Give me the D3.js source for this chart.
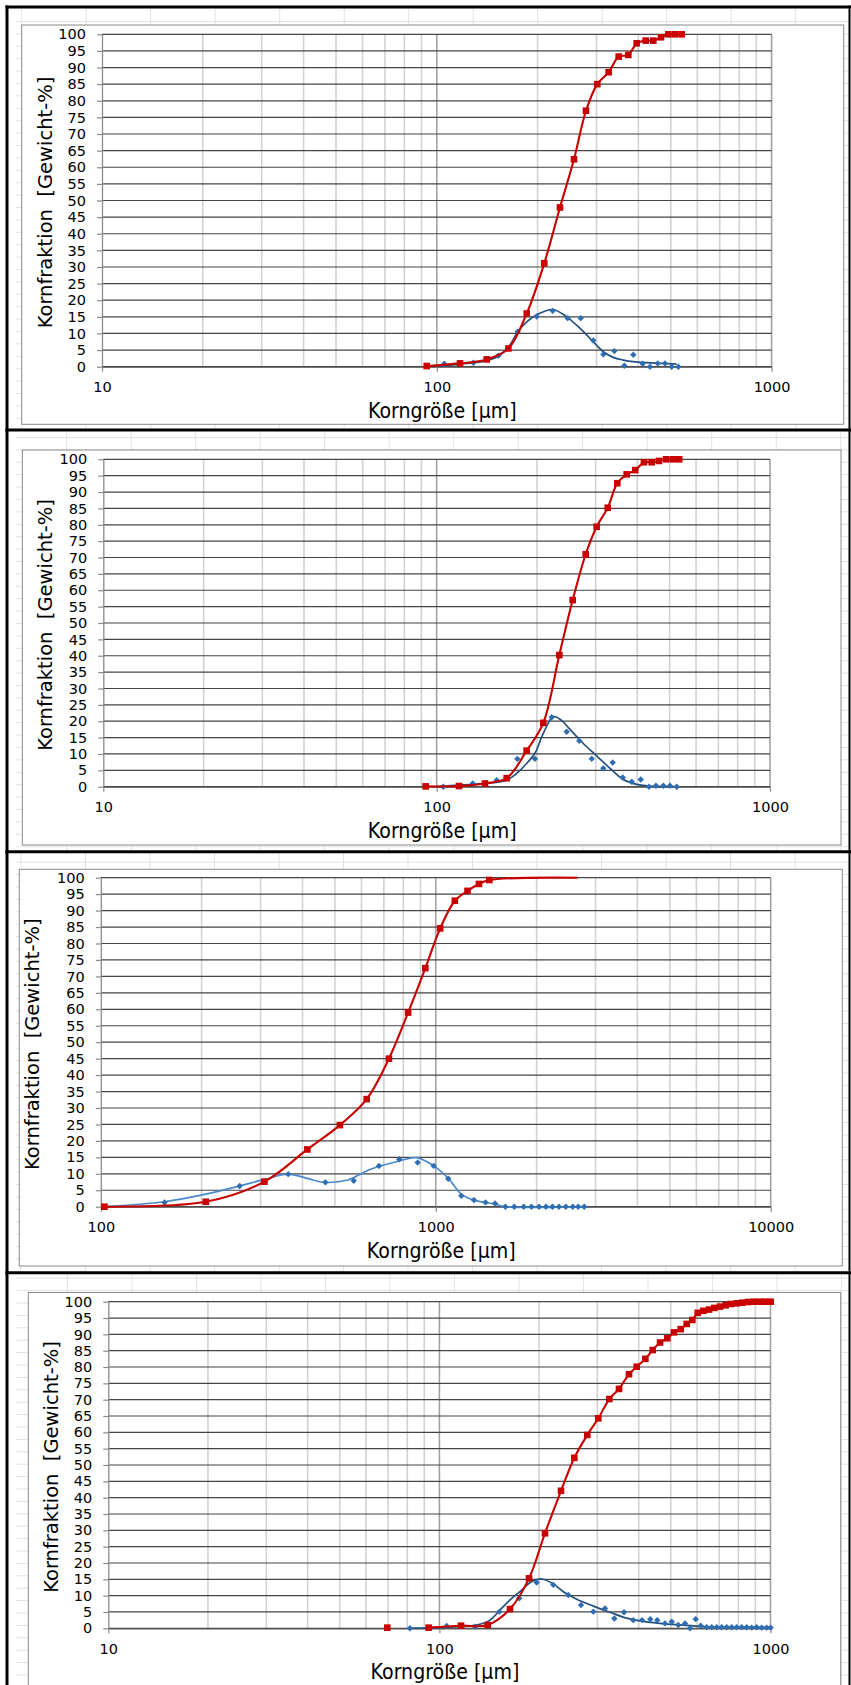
<!DOCTYPE html>
<html><head><meta charset="utf-8">
<script src="https://cdn.jsdelivr.net/npm/d3@7"></script>
<style>body{margin:0;background:#fff}svg{display:block}</style>
</head><body>
<svg id="c" width="851" height="1685"></svg>
<script>
// ---------- DATA ----------
const yTicks = [0,5,10,15,20,25,30,35,40,45,50,55,60,65,70,75,80,85,90,95,100];
const xTickValsA = [10,100,1000];
const xTickLabelsA = ["10","100","1000"];
const xTickValsB = [100,1000,10000];
const xTickLabelsB = ["100","1000","10000"];
const xTitle = "Korngröße [µm]";
const yTitle = "Kornfraktion  [Gewicht-%]";

// Panel 1
const p1RedX = [93.3,117.3,141,163.6,185.6,209.4,233.3,256.9,279,301.6,326.1,349.4,373.3,395.4,420.6,443.3,467.4,491.5,514.6,538.8];
const p1RedY = [0.2,1.0,2.2,5.5,16,31.1,47.9,62.4,77,85,88.6,93.3,93.8,97.3,98.1,98.1,99.1,100,100,100];
const p1BlueX = [105.3,128.6,152.7,174.4,198.8,221.9,246,269,293.4,314.4,339,363.2,386.4,412,433.4,456.8,480.4,503,526.6];
const p1BlueY = [0.9,1.2,3.3,10.5,15.1,16.8,14.6,14.6,7.9,3.7,4.7,0.3,3.6,0.9,0,1.0,1.0,0,0];
const p1CurveX = [99.9,117.3,141,154.5,165.4,174.4,185.6,198.8,221.9,244.3,267.8,293.4,314.4,336.7,360.6,386.4,423.6,474.9,520.6];
const p1CurveY = [0.2,0.8,1.8,3.5,6.5,10.5,13.5,15.6,17.2,15.0,11.5,7.5,4.5,2.8,2.0,1.5,1.2,1.0,0.8];

// Panel 2
const p2RedX = [92.7,116.7,139.6,162.2,186.2,208.9,233.3,255.9,280,302,326,348.3,371.6,394.4,418.8,441.7,464.6,488,511,534];
const p2RedY = [0.1,0.2,1.0,2.6,11.0,19.5,40.2,57.0,71.0,79.4,85.2,92.7,95.4,96.7,99.1,99.1,99.5,100,100,100];
const p2BlueX = [104.7,128.3,151.4,174.6,197.2,221.4,245.5,267.8,291.9,316.2,337.4,361.7,384.8,409.5,433.5,454.9,478.6,501.2,525];
const p2BlueY = [0,1.0,2.0,8.5,8.5,21.2,16.8,14.0,8.5,5.6,7.4,2.8,1.5,2.2,0,0.3,0.3,0.3,0];
const p2CurveX = [100,117.5,141.3,162.2,173.9,186.2,197.2,208.9,223.9,237.3,251.2,275.4,302,331.3,363,398,446.7,525];
const p2CurveY = [0,0.5,1.0,2.0,4.1,7.1,10.2,16.3,21.4,20.2,17.5,13.2,9.4,5.6,2.2,0.7,0.1,0];

// Panel 3
const p3RedX = [102.5,205.9,307.9,413.6,517.3,622.1,724.8,827,931,1031,1140,1244,1346,1445,2650];
const p3RedY = [0,1.5,7.6,17.4,24.8,32.7,45.0,59.0,72.5,84.6,93.0,96.0,98.1,99.3,100];
const p3RedMarked = 14; // the last point of the red line carries no marker
const p3BlueX = [155,259.8,362.7,468.3,568.9,676.9,778.5,883,986,1090,1192,1300,1408,1503,1614,1715,1831,1931,2034,2133,2231,2333,2446,2565,2662,2776];
const p3BlueY = [1.3,6.3,9.9,7.4,7.9,12.4,14.4,13.4,12.4,8.5,3.3,2.0,1.3,1.0,0,0,0,0,0,0,0,0,0,0,0,0];
const p3CurveX = [102.5,155,205.9,259.8,307.9,362.7,413,466,545.6,639,778.5,876.6,986,1090,1192,1300,1503,1614,2776];
const p3CurveY = [0,1.5,3.8,6.3,8.3,9.9,8.6,7.4,8.1,11.4,13.9,14.9,12.4,8.6,3.8,2.0,0.8,0,0];

// Panel 4
const p4RedX = [69.6,92.8,116.2,139.9,163.4,186.5,208.4,233,255.6,279.7,302,326,348.7,373.8,394.4,418.8,440.9,463.9,487.9,511.1,535.6,558.4,580.6,602.8,626.7,652.2,676.7,704,732.3,759.8,790.6,821.9,855,889.7,925.2,960.5,1001];
const p4RedY = [0.2,0.2,0.8,1.0,5.9,15.3,29.1,42.1,52.2,59.2,64.3,70.2,73.3,77.8,80.1,82.5,85.2,87.5,88.8,90.6,91.6,93.2,94.4,96.6,97.2,97.6,98.1,98.5,98.9,99.3,99.5,99.7,99.9,100,100,100,100];
const p4BlueX = [81.5,105.2,128.1,151.7,174.3,196.7,220.8,245.1,267.7,291.6,316.4,337.6,361.1,385.1,409.2,433.5,455,480.1,503,526.7,551.9,571.4,594.4,615.5,641.6,664.4,688,712.3,737.5,763.5,790.6,818.5,847.5,877.5,908.5,940.6,973.9,1001];
const p4BlueY = [0,0.7,0.5,5.1,9.2,14.0,13.3,10.2,7.1,5.1,6.1,3.0,4.9,2.5,2.5,2.8,2.5,1.5,2.0,1.0,1.5,0,2.8,0.8,0.3,0.3,0.3,0.3,0.3,0.3,0.3,0.3,0.3,0.2,0.3,0.2,0.2,0.2];
const p4CurveX = [81.5,105.2,129.6,142.1,152.4,162.6,175.1,190,203.7,220.8,236.7,259.9,291.6,327.6,367.9,412.9,485.9,545.3,612.5,688,1001];
const p4CurveY = [0,0.3,1.0,2.5,5.6,8.5,11.2,14.3,15.1,13.6,11.2,8.9,6.8,4.9,3.1,2.1,1.3,1.0,0.6,0.4,0.3];

// ---------- LAYOUT ----------
const panels = [
  {band:[8.5,428.5], chart:[21.7,25,843.7,424.3], plot:[102,771.6,34.3,366.7], dom:[10,1000],
   ticks:xTickValsA, labels:xTickLabelsA, ytx:51.5, colOff:21.7, rowOff:13,
   redX:p1RedX, redY:p1RedY, redStart:0, redMarked:p1RedX.length,
   blueX:p1BlueX, blueY:p1BlueY, curveX:p1CurveX, curveY:p1CurveY, curveColor:"#24507f"},
  {band:[431.5,850.2], chart:[22.3,450,841,845], plot:[103.3,770,459.3,786.7], dom:[10,1000],
   ticks:xTickValsA, labels:xTickLabelsA, ytx:52, colOff:2.2, rowOff:6,
   redX:p2RedX, redY:p2RedY, redStart:0, redMarked:p2RedX.length,
   blueX:p2BlueX, blueY:p2BlueY, curveX:p2CurveX, curveY:p2CurveY, curveColor:"#24507f"},
  {band:[853.2,1271.2], chart:[19.3,869.3,842.3,1266], plot:[100.8,770.7,877.7,1206.7], dom:[100,10000],
   ticks:xTickValsB, labels:xTickLabelsB, ytx:39, colOff:21, rowOff:9,
   redX:p3RedX, redY:p3RedY, redStart:0, redMarked:p3RedMarked,
   blueX:p3BlueX, blueY:p3BlueY, curveX:p3CurveX, curveY:p3CurveY, curveColor:"#4a88cc"},
  {band:[1274.2,1690], chart:[28.3,1292.5,840.7,1700], plot:[108.3,770.5,1301.7,1628.3], dom:[10,1000],
   ticks:xTickValsA, labels:xTickLabelsA, ytx:58, colOff:3, rowOff:4,
   redX:p4RedX, redY:p4RedY, redStart:1, redMarked:p4RedX.length,
   blueX:p4BlueX, blueY:p4BlueY, curveX:p4CurveX, curveY:p4CurveY, curveColor:"#24507f"}
];

const svg = d3.select("#c");
const FONT = "'DejaVu Sans', Verdana, sans-serif";
const RED = "#c80000", BLUE_M = "#2f6db3";

panels.forEach((P) => {
  const g = svg.append("g");
  const [bx0, bx1] = [16, 848];
  const [by0, by1] = P.band;
  // spreadsheet background grid
  const bg = g.append("g").attr("stroke", "#e2e2e2").attr("stroke-width", 1);
  for (let x = P.colOff; x < bx1; x += 64.5) {
    if (x < bx0) continue;
    bg.append("line").attr("x1", x).attr("x2", x).attr("y1", by0).attr("y2", by1);
  }
  for (let y = by0 + P.rowOff; y < by1; y += 12.4) {
    bg.append("line").attr("x1", bx0).attr("x2", bx1).attr("y1", y).attr("y2", y);
  }
  // chart area
  const [cx0, cy0, cx1, cy1] = P.chart;
  g.append("rect").attr("x", cx0).attr("y", cy0).attr("width", cx1 - cx0).attr("height", cy1 - cy0)
    .attr("fill", "#fff").attr("stroke", "#8a8a8a").attr("stroke-width", 1);

  const [px0, px1, pyT, pyB] = P.plot;
  const x = d3.scaleLog().domain(P.dom).range([px0, px1]);
  const y = d3.scaleLinear().domain([0, 100]).range([pyB, pyT]);

  // vertical gridlines (log minor + major)
  const vg = g.append("g");
  const vals = [];
  for (let d = P.dom[0]; d < P.dom[1]; d *= 10) {
    for (let m = 1; m <= 10; m++) {
      const v = m * d;
      if (v > P.dom[0] && v <= P.dom[1] && !(m === 10 && v !== P.dom[1])) vals.push({v, major: m === 1 || m === 10});
    }
  }
  vg.selectAll("line").data(vals).join("line")
    .attr("x1", d => x(d.v)).attr("x2", d => x(d.v)).attr("y1", pyT).attr("y2", pyB)
    .attr("stroke", d => d.major ? "#a3a3a3" : "#d2d2d2").attr("stroke-width", 1.6);

  // horizontal gridlines
  g.append("g").selectAll("line").data(yTicks).join("line")
    .attr("x1", px0).attr("x2", px1).attr("y1", d => y(d)).attr("y2", d => y(d))
    .attr("stroke", "#444").attr("stroke-width", 1.2);

  // axes
  const ya = g.append("g").attr("transform", `translate(${px0},0)`)
    .call(d3.axisLeft(y).tickValues(yTicks).tickSize(5).tickSizeOuter(0).tickPadding(11));
  ya.select(".domain").attr("stroke", "#8a8a8a").attr("stroke-width", 1.3);
  ya.selectAll(".tick line").attr("stroke", "#8a8a8a").attr("stroke-width", 1.2);
  ya.selectAll("text").attr("font-family", FONT).attr("font-size", 14.5).attr("fill", "#000");

  const xa = g.append("g").attr("transform", `translate(0,${pyB})`)
    .call(d3.axisBottom(x).tickValues(P.ticks).tickFormat((d, i) => P.labels[i])
      .tickSize(5).tickSizeOuter(0).tickPadding(10));
  xa.select(".domain").attr("stroke", "#555").attr("stroke-width", 1.3);
  xa.selectAll(".tick line").attr("stroke", "#8a8a8a").attr("stroke-width", 1.2);
  xa.selectAll("text").attr("font-family", FONT).attr("font-size", 14.5).attr("fill", "#000");

  // titles
  g.append("text").attr("transform", `translate(${(px0 + px1) / 2 + 5.5},${pyB + 51}) scale(1,1.08)`)
    .attr("text-anchor", "middle").attr("font-family", FONT).attr("font-size", 19)
    .attr("fill", "#000").text(xTitle);
  g.append("text").attr("transform", `translate(${P.ytx},${(pyT + pyB) / 2 + 2}) rotate(-90)`)
    .attr("text-anchor", "middle").attr("font-family", FONT).attr("font-size", 19.5)
    .style("white-space", "pre").attr("fill", "#000").text(yTitle);

  // blue smoothed curve
  const curvePts = P.curveX.map((v, i) => [v, P.curveY[i]]);
  const line = d3.line().x(d => x(d[0])).y(d => y(d[1])).curve(d3.curveCatmullRom.alpha(0.5));
  g.append("path").attr("d", line(curvePts)).attr("fill", "none")
    .attr("stroke", P.curveColor).attr("stroke-width", 1.7);

  // blue diamonds
  const bluePts = P.blueX.map((v, i) => [v, P.blueY[i]]);
  const r = 3.2;
  g.append("g").selectAll("path").data(bluePts).join("path")
    .attr("d", d => `M${x(d[0])},${y(d[1]) - r}L${x(d[0]) + r},${y(d[1])}L${x(d[0])},${y(d[1]) + r}L${x(d[0]) - r},${y(d[1])}Z`)
    .attr("fill", BLUE_M);

  // red line + squares
  const redPts = P.redX.map((v, i) => [v, P.redY[i]]);
  g.append("path").attr("d", line(redPts.slice(P.redStart))).attr("fill", "none")
    .attr("stroke", RED).attr("stroke-width", 2.1);
  const s = 6.6;
  g.append("g").selectAll("rect").data(redPts.slice(0, P.redMarked)).join("rect")
    .attr("x", d => x(d[0]) - s / 2).attr("y", d => y(d[1]) - s / 2)
    .attr("width", s).attr("height", s).attr("fill", RED);
});

// black outer frame and separators
const fr = svg.append("g").attr("stroke", "#000").attr("stroke-width", 3);
fr.append("line").attr("x1", 7).attr("x2", 7).attr("y1", 5.5).attr("y2", 1685);
fr.append("line").attr("x1", 849.5).attr("x2", 849.5).attr("y1", 5.5).attr("y2", 1685).attr("stroke-width", 2);
[7, 430, 851.7, 1272.7].forEach(yy => fr.append("line").attr("x1", 5.5).attr("x2", 851).attr("y1", yy).attr("y2", yy));
</script>
</body></html>
